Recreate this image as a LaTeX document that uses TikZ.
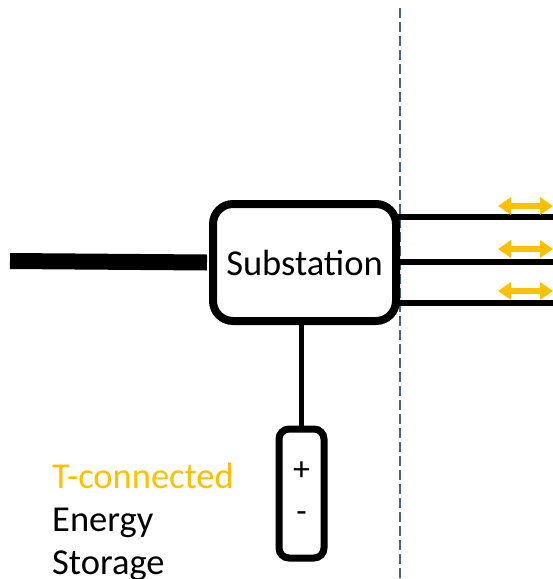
\documentclass[tikz,border=0pt]{standalone}
\usepackage{fontspec}
\setmainfont{Carlito}
\usetikzlibrary{arrows.meta, positioning}
\definecolor{gold}{RGB}{255,192,0}
\definecolor{slate}{RGB}{68,100,140}

\begin{document}
\begin{tikzpicture}[x=1pt, y=-1pt,
  subst/.style={rectangle, rounded corners=20pt, draw=black, line width=8pt, fill=white,
                minimum width=183pt, minimum height=117pt, inner sep=0pt, outer sep=0pt,
                font=\fontsize{36.5}{43}\selectfont},
  store/.style={rectangle, rounded corners=10pt, draw=black, line width=7pt, fill=white,
                minimum width=45pt, minimum height=129pt, outer sep=0pt},
  pole/.style={font=\fontsize{34}{38}\selectfont, inner sep=0pt},
  feeder/.style={line width=6pt},
  flow/.style={{Triangle[length=13pt,width=17pt]}-{Triangle[length=13pt,width=17pt]}, gold, line width=6pt},
  boundary/.style={slate, line width=1.6pt, dash pattern=on 10pt off 4pt}
]
  \useasboundingbox (0,0) rectangle (553,579);

  % boundary
  \coordinate (btop) at (400,8);
  \coordinate (bbot) at (400,579);
  \draw[boundary] (btop) -- (bbot);

  \node[subst] (sub) at (304.5,262.5) {Substation};
  \node[store, below=108pt of sub, xshift=-3pt] (bat) {};
  \node[pole] (plus) at ([yshift=22pt]bat.center) {+};
  \node[pole] (minus) at ([yshift=-23.5pt]bat.center) {-};

  % incoming line
  \coordinate (grid) at (10,261);
  \draw[line width=16pt] (grid) -- ([xshift=-6pt]sub.west);

  % storage tap
  \draw[line width=5pt] (sub.south -| bat.north) -- (bat.north);

  % feeders with exchange arrows
  \foreach \i/\y/\a in {1/217/206, 2/262/249, 3/303/291} {
    \coordinate (f\i) at (553,\y);
    \draw[feeder] (sub.east |- f\i) -- (f\i);
    \coordinate (al\i) at (498,\a);
    \coordinate (ar\i) at (553,\a);
    \draw[flow] (al\i) -- (ar\i);
  }

  \node[anchor=west, align=left, inner sep=0pt, font=\fontsize{36.5}{43}\selectfont] (lbl) at (52,522)
    {\textcolor{gold}{T-connected}\\Energy\\Storage};
\end{tikzpicture}
\end{document}
